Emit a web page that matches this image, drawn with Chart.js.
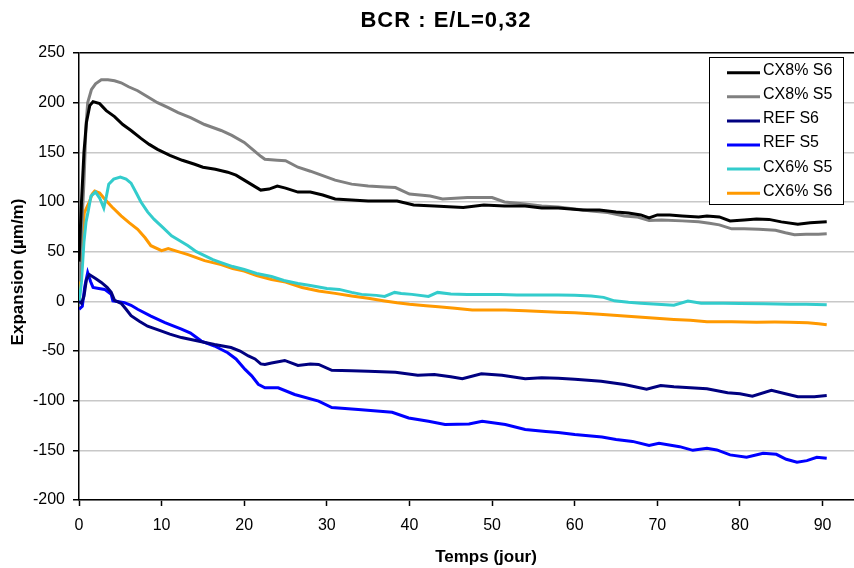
<!DOCTYPE html>
<html>
<head>
<meta charset="utf-8">
<title>BCR : E/L=0,32</title>
<script src="https://cdn.jsdelivr.net/npm/chart.js@4.4.1/dist/chart.umd.min.js"></script>
<style>
  html, body { margin:0; padding:0; background:#fff; }
  #wrap { width:854px; height:568px; }
</style>
</head>
<body>
<div id="wrap"><canvas id="chart" width="854" height="568"></canvas></div>
<script>
// BCR : E/L=0,32 - expansion vs temps

const TITLE = 'BCR : E/L=0,32';
const X_TITLE = 'Temps (jour)';
const Y_TITLE = 'Expansion (µm/m)';

const Y_MIN = -200, Y_MAX = 250, Y_STEP = 50;
const X_MIN = 0, X_MAX = 93.8, X_STEP = 10;

// CX8% S6
const cx8s6Days = [0,0.3,0.6,0.9,1.3,1.7,2.5,3.3,4.3,5.3,6.3,7.5,8.5,9.5,11,12.5,14,15,16.5,18,19,20,21,22,23,24,25,26.5,28,29.5,31,33,35,37,38.5,40.5,43,46.5,49,51.5,54,56,58,59.5,61,63,65,66.5,68,69,70,71.5,73,75,76,77.5,78.8,80.5,82,83.5,85,87,88.5,90.5];
const cx8s6Vals = [40,100,150,180,197,201,199,192,186,178,172,164,158,153,147,142,138,135,133,130,127,122,117,112,113,116,114,110,110,107,103,102,101,101,101,97,96,94.5,97,96,96,94,94,93,92,92,90,89,87,84,87,87,86,85,86,85,81,82,83,82.5,80,77.5,79,80];

// CX8% S5
const cx8s5Days = [0,0.3,0.6,0.85,1.05,1.5,2,2.7,3.5,4.3,5.1,6,7.1,8.3,9.5,10.8,12,13.5,15.2,16.2,17.2,18.5,20,21,22,22.5,24,25,26.5,28,29,31,33,35,37,38.3,40,42.5,44,46,47,50,51.5,54,56,58,60,62,64,66,67.5,69,70.5,73,75,76.3,77.5,79,80.5,82.3,84.3,85.5,86.6,88,89.5,90.5];
const cx8s5Vals = [20,70,120,177,200,213,219,223,223,222,220,216,212,206,200,195,190,185,178,175,172,167,160,153,146,143,142,141.5,135,131,128,122,118,116,115,114.5,108,106,103,104,104.5,104.5,100,98,96,95,93,91,89.5,86,85,81.5,82,81,80,78.5,77,73,73,72.5,71.5,69,67,67.5,67.5,68];

// REF S6
const refs6Days = [0,0.3,0.6,0.9,1.25,2,2.7,3.4,3.9,4.3,5.1,5.7,6.3,7.3,8.3,10,11,12.4,14.4,16.4,18.4,19.5,20.5,21.3,22,22.5,23.3,24.9,26.5,28,29,30.6,33,35,38.3,41,43,45,46.4,48.7,51.2,54,56,58,60,63.2,66,68.7,70.4,72,74,76,78.5,80,81.5,83.8,85.5,87,89,90.5];
const refs6Vals = [0,-2,5,22,27,23,19,14,9,1,-2,-8,-14.5,-20,-25,-30,-33,-36.5,-40,-43.5,-46.5,-50,-55,-58,-63,-63.5,-62,-59.5,-64.5,-63,-63.5,-69.5,-70,-70.5,-71.3,-74.5,-73.7,-76,-78,-73,-74.5,-78,-77,-77.5,-78.5,-80.4,-83.7,-88.5,-84.8,-86,-87,-88,-92,-93,-95.5,-89.5,-93,-96,-96,-94.8];

// REF S5
const refs5Days = [0,0.4,0.7,1.05,1.4,1.7,2.4,3.1,3.9,4.1,5.5,6.3,7.1,8.7,10.4,12.4,13.5,14.8,16.4,18,19,20.1,20.9,21.7,22.5,24.1,26.1,29,30.6,33.8,37.9,39.9,42.3,44.3,47.2,48.8,51.6,54,56.5,58,60,63.3,65,67,69,70.2,72.7,74.3,76,77.2,78.8,80.8,82.8,84.4,85.6,86.9,88.1,89.3,90.5];
const refs5Vals = [-8,-5,15,29,20,14,13,12,7,0.5,-1.3,-4,-8,-14.8,-21.5,-28,-32,-40,-45,-51.8,-58,-68.5,-75,-83.5,-87,-87,-93.8,-100.5,-107,-109,-111.7,-117.4,-120.8,-124,-123.4,-120.8,-124,-129,-131,-132,-134,-136.5,-139,-141,-145,-143,-146.3,-150,-148,-149.6,-154.6,-157,-153,-154,-159,-162,-160.4,-157,-158];

// CX6% S5
const cx6s5Days = [0,0.3,0.6,0.85,1.05,1.45,2,2.5,3,3.3,3.6,4.2,5,5.7,6.3,7,7.5,8.3,9.1,10.2,11.2,12.2,13.2,14.2,15.2,16.2,17.2,18.6,20,21.5,23.3,24.8,26.5,28,30,31.5,33,34.2,36,37,38.2,39,40.3,42.3,43.4,45,47,49,51,53,55.8,58,60,62,63.5,64.8,66.5,68,70,72,73.7,75.3,78,80,83,86,88,90.5];
const cx6s5Vals = [-3,20,60,80,88,106,110,104,94,105,118,123,125,123,119,108,100,90,82.5,74,66,61,56,50,46,42,39,35,32,28,25,21,18,16,13,12,9,7,6,5,9,8,7,5,9,7.5,7,7,7,6.5,6.5,6.5,6,5.4,4,0.5,-1,-2,-3,-4,0.3,-2,-2,-2.3,-2.5,-3,-3,-3.5];

// CX6% S6
const cx6s6Days = [0,0.3,0.64,1.25,1.6,1.9,2.5,3.1,4,5.1,6.1,7.1,8,8.7,10,10.8,12,13.2,14.2,15.2,16.2,17.2,18.6,20,21.5,23.3,25,27,29,31,33,35,37,38.5,40,42,43.5,45.5,47.6,50,51.6,54,56,58,60,63,66,69,72,74,76,79,82,84.2,86,88.2,89.5,90.5];
const cx6s6Vals = [2,50,89,100,108,111,109,103,95,86,79,72.5,64,56,51,53,50,47,44,41,39,37,33,30.5,26,22,19.5,14,10.4,8,5.4,3,0.3,-1.5,-3,-4.5,-5.4,-7,-8.7,-8.7,-8.7,-9.5,-10.3,-11,-11.4,-13,-14.8,-16.5,-18.2,-19,-20.5,-20.5,-21,-20.9,-21,-21.5,-22.5,-23.5];

const SERIES_LABELS = ['CX8% S6','CX8% S5','REF S6','REF S5','CX6% S5','CX6% S6'];
const SERIES_COLORS = ['#000000','#808080','#000080','#0000ff','#33cccc','#ff9900'];
const SERIES_DAYS = [cx8s6Days, cx8s5Days, refs6Days, refs5Days, cx6s5Days, cx6s6Days];
const SERIES_VALS = [cx8s6Vals, cx8s5Vals, refs6Vals, refs5Vals, cx6s5Vals, cx6s6Vals];

const FONT = "'Liberation Sans', Arial, sans-serif";

const datasets = SERIES_LABELS.map((label, i) => ({
  label,
  data: SERIES_DAYS[i].map((d, k) => ({x: d, y: SERIES_VALS[i][k]})),
  borderColor: SERIES_COLORS[i],
  backgroundColor: SERIES_COLORS[i],
  borderWidth: 3,
  pointRadius: 0,
  tension: 0,
  fill: false
}));

// titles + boxed legend drawn on the canvas
const decor = {
  id: 'decor',
  afterDraw(chart){
    const c = chart.ctx;
    const area = chart.chartArea;
    c.save();
    c.fillStyle = '#000';
    c.textAlign = 'center';
    c.textBaseline = 'middle';

    c.font = 'bold 22px ' + FONT;
    c.letterSpacing = '1px';
    c.fillText(TITLE, 446, 21);
    c.letterSpacing = '0px';

    c.font = 'bold 17px ' + FONT;
    c.fillText(X_TITLE, 486, 557);

    c.save();
    c.translate(18, 272);
    c.rotate(-Math.PI/2);
    c.fillText(Y_TITLE, 0, 0);
    c.restore();

    // legend box
    const bx = 709.5, by = 57.5, bw = 134, bh = 147;
    c.fillStyle = '#fff';
    c.fillRect(bx, by, bw, bh);
    c.strokeStyle = '#000';
    c.lineWidth = 1;
    c.strokeRect(bx, by, bw, bh);

    c.font = '16px ' + FONT;
    c.textAlign = 'left';
    chart.data.datasets.forEach((ds, i) => {
      const y = 72.7 + 24.1 * i;
      c.strokeStyle = ds.borderColor;
      c.lineWidth = 3;
      c.beginPath();
      c.moveTo(727, y);
      c.lineTo(760, y);
      c.stroke();
      c.fillStyle = '#000';
      c.fillText(ds.label, 763, y - 2);
    });
    c.restore();
  }
};

new Chart(document.getElementById('chart'), {
  type: 'line',
  data: { datasets },
  plugins: [decor],
  options: {
    responsive: false,
    animation: false,
    devicePixelRatio: 1,
    layout: { padding: { top: 53, left: 0, right: 0, bottom: 0 } },
    plugins: {
      legend: { display: false },
      title: { display: false },
      tooltip: { enabled: false }
    },
    scales: {
      x: {
        type: 'linear',
        min: X_MIN,
        max: X_MAX,
        afterFit: s => { s.height = 68; },
        ticks: {
          stepSize: X_STEP,
          includeBounds: false,
          color: '#000',
          padding: 10,
          font: { family: FONT, size: 16 }
        },
        grid: {
          drawOnChartArea: false,
          drawTicks: true,
          tickLength: 6,
          tickColor: '#000',
          tickWidth: 1.5
        },
        border: { display: true, color: '#000', width: 1.5 }
      },
      y: {
        min: Y_MIN,
        max: Y_MAX,
        afterFit: s => { s.width = 79; },
        ticks: {
          stepSize: Y_STEP,
          color: '#000',
          padding: 8,
          font: { family: FONT, size: 16 }
        },
        grid: {
          color: ctx => (ctx.tick && ctx.tick.value === Y_MAX) ? '#000' : '#c8c8c8',
          lineWidth: ctx => (ctx.tick && ctx.tick.value === Y_MAX) ? 1.5 : 1.5,
          drawTicks: true,
          tickLength: 6,
          tickColor: '#000',
          tickWidth: 1.5
        },
        border: { display: true, color: '#000', width: 1.5 }
      }
    }
  }
});
</script>
</body>
</html>
